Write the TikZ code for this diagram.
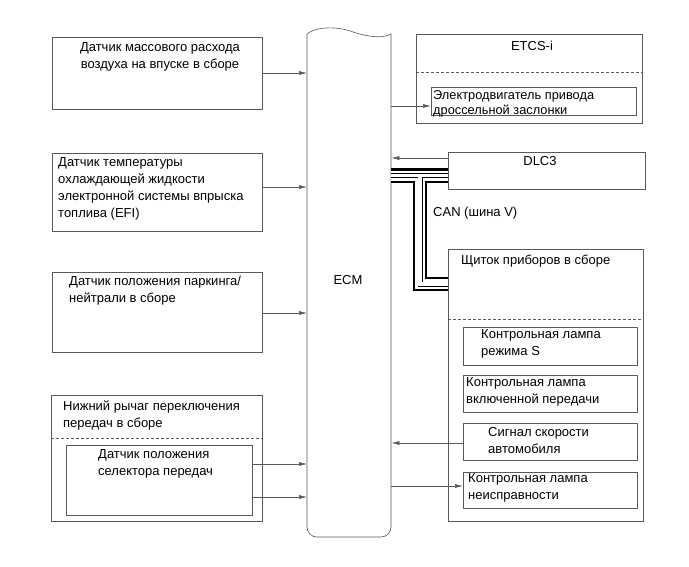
\documentclass[tikz,border=0pt]{standalone}
\usepackage{fontspec}
\setmainfont{Liberation Sans}
\usetikzlibrary{arrows.meta}
\definecolor{linecol}{gray}{0.35}
\begin{document}
\begin{tikzpicture}[x=1pt,y=-1pt,
  box/.style={draw=linecol, line width=0.6pt, inner sep=0pt, anchor=north west},
  txt/.style={inner sep=0pt, anchor=north west, align=left, font=\fontsize{13}{17}\selectfont},
  ctxt/.style={inner sep=0pt, anchor=north, align=center, font=\fontsize{13}{17}\selectfont},
  dashline/.style={draw=linecol, line width=0.6pt, dash pattern=on 3pt off 2pt},
  arr/.style={draw=linecol, line width=0.6pt, -{Latex[length=8pt,width=4pt]}},
  conn/.style={draw=linecol, line width=0.6pt}]
\useasboundingbox[fill=white] (0,0) rectangle (689,566);

% ECM
\node[inner sep=0pt, minimum width=84pt, minimum height=504pt, anchor=north west] (ecm) at (307,33) {};
\draw[conn] (307,34) .. controls (315,27) and (335,26) .. (350,31) .. controls (362,35) and (380,40) .. (391,34)
  [rounded corners=10pt] -- (391,537) -- (307,537) [sharp corners] -- (307,34);
\node[ctxt, anchor=center] (ecmlabel) at (348,280) {ECM};

% left boxes
\node[box, minimum width=210pt, minimum height=72pt] (maf) at (52,37) {};
\node[ctxt] (maft) at (160,42) {Датчик массового расхода\\воздуха на впуске в сборе};
\node[box, minimum width=210pt, minimum height=78pt] (ect) at (52,153) {};
\node[txt] (ectt) at (58,157) {Датчик температуры\\охлаждающей жидкости\\электронной системы впрыска\\топлива (EFI)};
\node[box, minimum width=210pt, minimum height=80pt] (pnp) at (52,272) {};
\node[txt] (pnpt) at (69,276) {Датчик положения паркинга/\\нейтрали в сборе};
\node[box, minimum width=211pt, minimum height=126pt] (shl) at (51,395) {};
\node[txt] (shlt) at (63,401) {Нижний рычаг переключения\\передач в сборе};
\coordinate (d4) at (0,438);
\draw[dashline] (shl.west |- d4) -- (shl.east |- d4);
\node[box, minimum width=186pt, minimum height=70pt] (gss) at (66,445) {};
\node[txt] (gsst) at (98,449) {Датчик положения\\селектора передач};

% right boxes
\node[box, minimum width=226pt, minimum height=89pt] (etcs) at (416,34) {};
\node[ctxt] (etcst) at (532,41) {ETCS-i};
\coordinate (d1) at (0,72);
\draw[dashline] (etcs.west |- d1) -- (etcs.east |- d1);
\node[box, minimum width=205pt, minimum height=28pt] (thr) at (431,87) {};
\node[txt, font=\fontsize{12.8}{15}\selectfont] (thrt) at (433,90.5) {Электродвигатель привода\\дроссельной заслонки};

\node[box, minimum width=197pt, minimum height=37pt] (dlc) at (448,152) {};
\node[ctxt] (dlct) at (540,156) {DLC3};
\node[txt] (cant) at (433,206.5) {CAN (шина V)};

\node[box, minimum width=195pt, minimum height=272pt] (ipc) at (448,249) {};
\node[txt] (ipct) at (461,255) {Щиток приборов в сборе};
\coordinate (d2) at (0,319);
\draw[dashline] (ipc.west |- d2) -- (ipc.east |- d2);
\node[box, minimum width=174pt, minimum height=38pt] (lps) at (463,327) {};
\node[txt] (lpst) at (481,329) {Контрольная лампа\\режима S};
\node[box, minimum width=174pt, minimum height=37pt] (lpg) at (463,375) {};
\node[txt] (lpgt) at (466,377) {Контрольная лампа\\включенной передачи};
\node[box, minimum width=174pt, minimum height=37pt] (spd) at (463,423) {};
\node[txt] (spdt) at (488,427) {Сигнал скорости\\автомобиля};
\node[box, minimum width=174pt, minimum height=36pt] (mil) at (463,472) {};
\node[txt] (milt) at (468,473) {Контрольная лампа\\неисправности};

% arrows
\coordinate (y1) at (0,73);
\coordinate (y2) at (0,187);
\coordinate (y3) at (0,313);
\coordinate (y4) at (0,464);
\coordinate (y5) at (0,497);
\coordinate (y6) at (0,106);
\coordinate (y7) at (0,158);
\coordinate (y8) at (0,443);
\coordinate (y9) at (0,486);
\draw[arr] (maf.east |- y1) -- (ecm.west |- y1);
\draw[arr] (ect.east |- y2) -- (ecm.west |- y2);
\draw[arr] (pnp.east |- y3) -- (ecm.west |- y3);
\draw[arr] (gss.east |- y4) -- (ecm.west |- y4);
\draw[arr] (gss.east |- y5) -- (ecm.west |- y5);
\draw[arr] (ecm.east |- y6) -- (thr.west |- y6);
\draw[arr] (dlc.west |- y7) -- (ecm.east |- y7);
\draw[arr] (spd.west |- y8) -- (ecm.east |- y8);
\draw[arr] (ecm.east |- y9) -- (mil.west |- y9);

% CAN bus
\coordinate (canj) at (420,175.5);
\coordinate (canc) at (420,284);
\foreach \w/\c in {14.5/black, 10/white, 5/black, 3.4/white}{
  \draw[line width=\w pt, \c, line join=miter, line cap=butt]
    (ecm.east |- canj) -- (dlc.west |- canj)
    (canj) -- (canc) -- (ipc.west |- canc);
}
\end{tikzpicture}
\end{document}
